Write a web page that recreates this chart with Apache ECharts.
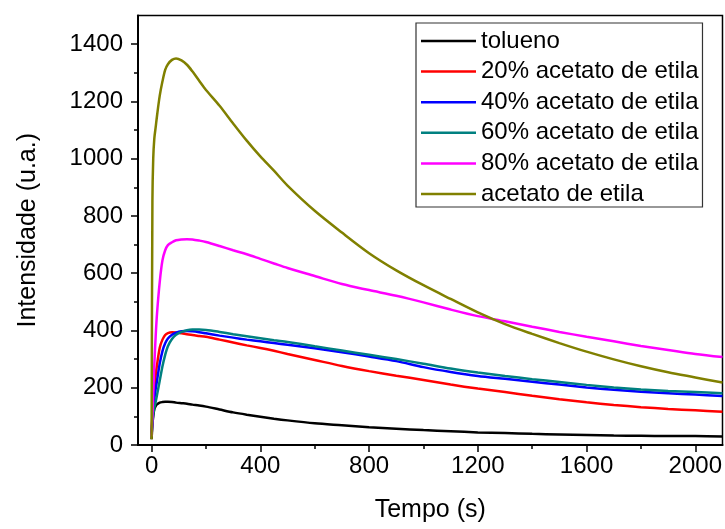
<!DOCTYPE html>
<html>
<head>
<meta charset="utf-8">
<script src="https://cdn.jsdelivr.net/npm/echarts@6/dist/echarts.min.js"></script>
<style>
html,body{margin:0;padding:0;background:#fff;}
#chart{width:725px;height:529px;}
</style>
</head>
<body>
<div id="chart"></div>
<script>
// time (s)
var times = [0, 3, 6, 10, 15, 20, 30, 40, 50, 60, 75, 90, 110, 130, 150, 175, 200, 250, 300, 350, 400, 450, 500, 600, 700, 800, 900, 1000, 1100, 1200, 1300, 1400, 1500, 1600, 1700, 1800, 1900, 2000, 2100];

var tolueno   = [20, 70, 100, 125, 136, 142, 148, 150, 151, 151, 150, 148, 146, 144, 141, 138, 134, 124, 114, 106, 99, 92, 86, 76, 69, 62, 57, 52, 48, 44, 42, 39, 37, 35, 33, 32, 31, 31, 30];
var ac20      = [40, 110, 160, 200, 245, 280, 340, 368, 384, 391, 394, 393, 390, 387, 384, 381, 378, 368, 358, 348, 339, 329, 318, 297, 276, 258, 242, 227, 211, 197, 185, 172, 160, 149, 140, 132, 126, 121, 116];
var ac40      = [40, 90, 125, 160, 195, 225, 285, 328, 355, 372, 385, 392, 397, 398, 397, 394, 390, 382, 375, 368, 362, 356, 350, 338, 324, 309, 293, 272, 255, 241, 231, 221, 211, 201, 193, 186, 181, 176, 171];
var ac60      = [30, 80, 105, 130, 150, 175, 225, 275, 315, 345, 370, 385, 395, 401, 403, 403, 402, 395, 387, 380, 373, 366, 360, 345, 330, 315, 300, 284, 267, 253, 241, 230, 220, 210, 201, 194, 189, 185, 181];
var ac80      = [30, 100, 180, 280, 380, 460, 570, 645, 680, 698, 708, 715, 718, 719, 718, 714, 709, 695, 680, 666, 650, 634, 618, 590, 562, 541, 521, 498, 473, 450, 432, 413, 395, 378, 362, 346, 332, 318, 307];
var acetato   = [20, 850, 1000, 1070, 1110, 1150, 1220, 1270, 1310, 1330, 1345, 1350, 1343, 1328, 1305, 1272, 1240, 1185, 1123, 1063, 1008, 958, 906, 818, 742, 670, 610, 558, 510, 463, 422, 388, 356, 326, 299, 275, 254, 236, 218];

var seriesNames = ['tolueno', '20% acetato de etila', '40% acetato de etila', '60% acetato de etila', '80% acetato de etila', 'acetato de etila'];
var seriesValues = [tolueno, ac20, ac40, ac60, ac80, acetato];
var seriesColors = ['#000000', '#ff0000', '#0000ff', '#008080', '#ff00ff', '#808000'];

var xMajor = [0, 400, 800, 1200, 1600, 2000];
var xMinor = [200, 600, 1000, 1400, 1800];
var yMajor = [0, 200, 400, 600, 800, 1000, 1200, 1400];
var yMinor = [100, 300, 500, 700, 900, 1100, 1300];

var FONT = 'Liberation Sans, Arial, sans-serif';

function pairs(vals) {
  return times.map(function (t, i) { return [t, vals[i]]; });
}
function plain(v) { return String(v); }

var series = seriesNames.map(function (name, i) {
  return {
    name: name,
    type: 'line',
    xAxisIndex: 0,
    yAxisIndex: 0,
    data: pairs(seriesValues[i]),
    showSymbol: false,
    symbol: 'none',
    smooth: 0.3,
    lineStyle: { color: seriesColors[i], width: 2.5 },
    itemStyle: { color: seriesColors[i] },
    animation: false,
    z: 2 + i
  };
});

var chart = echarts.init(document.getElementById('chart'), null, { renderer: 'canvas' });
chart.setOption({
  backgroundColor: '#ffffff',
  animation: false,
  grid: {
    left: 138, right: 2.5, top: 15.5, bottom: 84,
    show: true, borderColor: '#000', borderWidth: 1.5, backgroundColor: 'transparent'
  },
  legend: {
    left: 416, top: 23,
    orient: 'vertical',
    icon: 'rect',
    itemWidth: 55, itemHeight: 2.5,
    itemGap: 4.6,
    padding: [5, 4, 0, 5],
    borderColor: '#333', borderWidth: 1.2,
    backgroundColor: '#fff',
    textStyle: { fontFamily: FONT, fontSize: 24, color: '#000', lineHeight: 26 },
    data: seriesNames
  },
  xAxis: [{
    type: 'value', min: -50, max: 2100,
    name: 'Tempo (s)', nameLocation: 'middle', nameGap: 53,
    nameTextStyle: { fontFamily: FONT, fontSize: 25, color: '#000' },
    axisLine: { show: true, onZero: false, lineStyle: { color: '#000', width: 2 } },
    axisTick: { show: true, length: 7, customValues: xMajor, lineStyle: { color: '#000', width: 1.5 } },
    axisLabel: { customValues: xMajor, formatter: plain, margin: 9, fontFamily: FONT, fontSize: 24, color: '#000' },
    splitLine: { show: false }
  }, {
    type: 'value', min: -50, max: 2100, position: 'bottom',
    axisLine: { show: false, onZero: false },
    axisTick: { show: true, length: 4, customValues: xMinor, lineStyle: { color: '#000', width: 1.5 } },
    axisLabel: { show: false },
    splitLine: { show: false }
  }],
  yAxis: [{
    type: 'value', min: 0, max: 1500,
    name: 'Intensidade (u.a.)', nameLocation: 'middle', nameGap: 97,
    nameTextStyle: { fontFamily: FONT, fontSize: 25, color: '#000' },
    axisLine: { show: true, onZero: false, lineStyle: { color: '#000', width: 2 } },
    axisTick: { show: true, length: 7, customValues: yMajor, lineStyle: { color: '#000', width: 1.5 } },
    axisLabel: { customValues: yMajor, formatter: plain, margin: 15, fontFamily: FONT, fontSize: 24, color: '#000' },
    splitLine: { show: false }
  }, {
    type: 'value', min: 0, max: 1500, position: 'left',
    axisLine: { show: false, onZero: false },
    axisTick: { show: true, length: 4, customValues: yMinor, lineStyle: { color: '#000', width: 1.5 } },
    axisLabel: { show: false },
    splitLine: { show: false }
  }],
  series: series
});
</script>
</body>
</html>
